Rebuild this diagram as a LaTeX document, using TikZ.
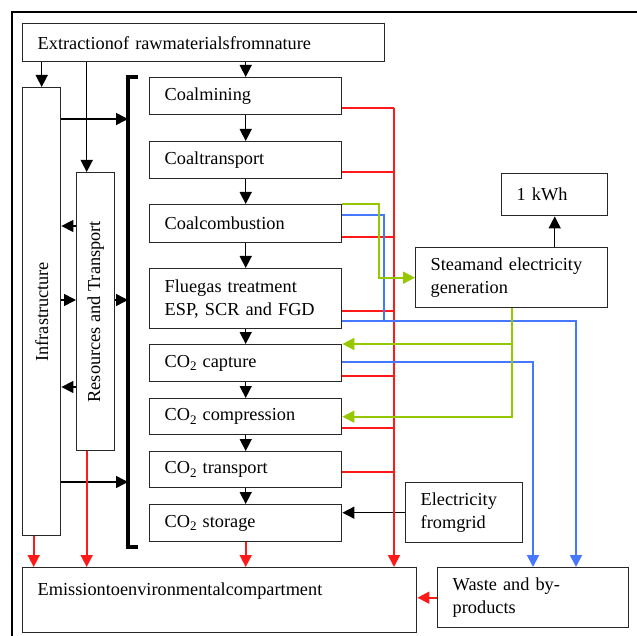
\documentclass[tikz,border=0pt]{standalone}
\usepackage{fontspec}
\setmainfont{Liberation Serif}
\usepackage{graphicx}
\usetikzlibrary{calc,arrows.meta}
\definecolor{boxline}{RGB}{40,40,40}
\definecolor{emitred}{RGB}{255,25,25}
\definecolor{wasteblue}{RGB}{70,120,255}
\definecolor{steamgreen}{RGB}{150,200,0}
\newcommand{\cotwo}{CO\raisebox{-0.4ex}{\fontsize{13}{13}\selectfont 2}}
\tikzset{
    lab/.style={
        font=\fontsize{18.3}{23}\selectfont
    }
}

\begin{document}
\begin{tikzpicture}[x=1pt,y=-1pt, line join=miter]

% box + connector styles
\tikzset{
  box/.style={lab, draw=boxline, line width=1.4pt, anchor=north west, inner xsep=15pt, inner ysep=0pt, align=left},
  proc/.style={box, text width=162pt, minimum height=37pt},
  vbox/.style={lab, draw=boxline, line width=1.4pt, anchor=north west, inner sep=0pt, minimum width=38pt},
  tip/.style={-{Triangle[length=12pt,width=12pt]}},
  arr/.style={draw=black, line width=1.5pt, tip},
  emit/.style={draw=emitred, line width=1.7pt},
  wasteln/.style={draw=wasteblue, line width=1.9pt},
  steamln/.style={draw=steamgreen, line width=1.9pt},
  bracket/.style={draw=black, line width=3.5pt},
}

  \useasboundingbox (0,0) rectangle (637,636);
  \draw[line width=1.5pt] (637,12) -- (12,12) -- (12,636);

  % nodes
  \node[box, text width=332pt, minimum height=38pt] (extract) at (22,23) {Extractionof rawmaterialsfromnature};
  \node[vbox, minimum height=448pt] (infra) at (22,87) {\rotatebox{90}{Infrastructure}};
  \node[vbox, minimum height=278pt] (res) at (76,172) {\rotatebox{90}{Resources and Transport}};

  \node[proc] (mine) at (149,77) {Coalmining};
  \node[proc] (ctrans) at (149,141) {Coaltransport};
  \node[proc, minimum height=38pt] (comb) at (149,204) {Coalcombustion};
  \node[proc, minimum height=60pt] (flue) at (149,268) {Fluegas treatment\\ESP, SCR and FGD};
  \node[proc] (capt) at (149,344) {\cotwo{} capture};
  \node[proc, minimum height=36pt] (compr) at (149,398) {\cotwo{} compression};
  \node[proc, minimum height=36pt] (co2tr) at (149,451) {\cotwo{} transport};
  \node[proc] (stor) at (149,504) {\cotwo{} storage};

  \node[box, text width=364pt, minimum height=65pt] (emis) at (22,567) {Emissiontoenvironmentalcompartment\\\mbox{}};
  \node[box, text width=161pt, minimum height=60pt] (waste) at (437,567) {Waste and by-\\products};
  \node[box, text width=162pt, minimum height=60pt] (steam) at (415,247) {Steamand electricity\\generation};
  \node[box, text width=76pt, minimum height=42pt] (kwh) at (501,173) {1 kWh};
  \node[box, text width=87pt, minimum height=60pt] (grid) at (405,482) {Electricity\\fromgrid};

  % bracket and bus points
  \coordinate (brtop) at (128,77);
  \coordinate (brbot) at (128,547);
  \draw[bracket] ($(brtop)+(10,0)$) -- (brtop) -- (brbot) -- ++(10,0);

  \coordinate (rin) at ($(res.north)+(-9,0)$);
  \coordinate (iout) at ($(infra.south)+(-8,0)$);
  \coordinate (rbus) at (394,108);
  \coordinate (bbus) at (384,215);
  \coordinate (gbus) at (379,204);
  \coordinate (flueout) at (576,321);
  \coordinate (captout) at (533,362);

  % black flow
  \draw[arr] (extract.south -| mine.north) -- (mine.north);
  \draw[arr] (mine.south) -- (ctrans.north);
  \draw[arr] (ctrans.south) -- (comb.north);
  \draw[arr] (comb.south) -- (flue.north);
  \draw[arr] (flue.south) -- (capt.north);
  \draw[arr] (capt.south) -- (compr.north);
  \draw[arr] (compr.south) -- (co2tr.north);
  \draw[arr] (co2tr.south) -- (stor.north);

  \draw[arr] (extract.south -| infra.north) -- (infra.north);
  \draw[arr] (extract.south -| rin) -- (rin);
  \draw[arr] (infra.east |- 0,119) -- (brtop |- 0,119);
  \draw[arr] (infra.east |- 0,482) -- (brtop |- 0,482);
  \draw[arr] (res.west |- 0,226) -- (infra.east |- 0,226);
  \draw[arr] (res.west |- 0,387) -- (infra.east |- 0,387);
  \draw[arr] (infra.east |- 0,300) -- (res.west |- 0,300);
  \draw[arr] (res.east |- 0,300) -- (brtop |- 0,300);

  \draw[arr] (steam.north -| kwh.south) -- (kwh.south);
  \draw[arr] (grid.west) -- (grid.west -| stor.east);

  % emissions (red)
  \draw[emit] (mine.east |- rbus) -- (rbus);
  \draw[emit] (ctrans.east |- 0,172) -- (rbus |- 0,172);
  \draw[emit] (comb.east |- 0,237) -- (rbus |- 0,237);
  \draw[emit] (flue.east |- 0,311) -- (rbus |- 0,311);
  \draw[emit] (capt.east |- 0,376) -- (rbus |- 0,376);
  \draw[emit] (compr.east |- 0,428) -- (rbus |- 0,428);
  \draw[emit] (co2tr.east |- 0,472) -- (rbus |- 0,472);
  \draw[emit, tip] (rbus) -- (rbus |- emis.north);
  \draw[emit, tip] (iout) -- (iout |- emis.north);
  \draw[emit, tip] (rin |- res.south) -- (rin |- emis.north);
  \draw[emit, tip] (stor.south) -- (stor.south |- emis.north);
  \draw[emit, tip] (waste.west) -- (waste.west -| emis.east);

  % waste (blue)
  \draw[wasteln] (comb.east |- bbus) -| (bbus |- flueout);
  \draw[wasteln, tip] (flue.east |- flueout) -- (flueout) -- (flueout |- waste.north);
  \draw[wasteln, tip] (capt.east |- captout) -- (captout) -- (captout |- waste.north);

  % steam and electricity (green)
  \draw[steamln, tip] (comb.north east) -- (gbus) |- (steam.west);
  \draw[steamln, tip] (steam.south) |- (compr.east);
  \draw[steamln, tip] (steam.south |- capt.north east) -- (capt.north east);

\end{tikzpicture}
\end{document}
